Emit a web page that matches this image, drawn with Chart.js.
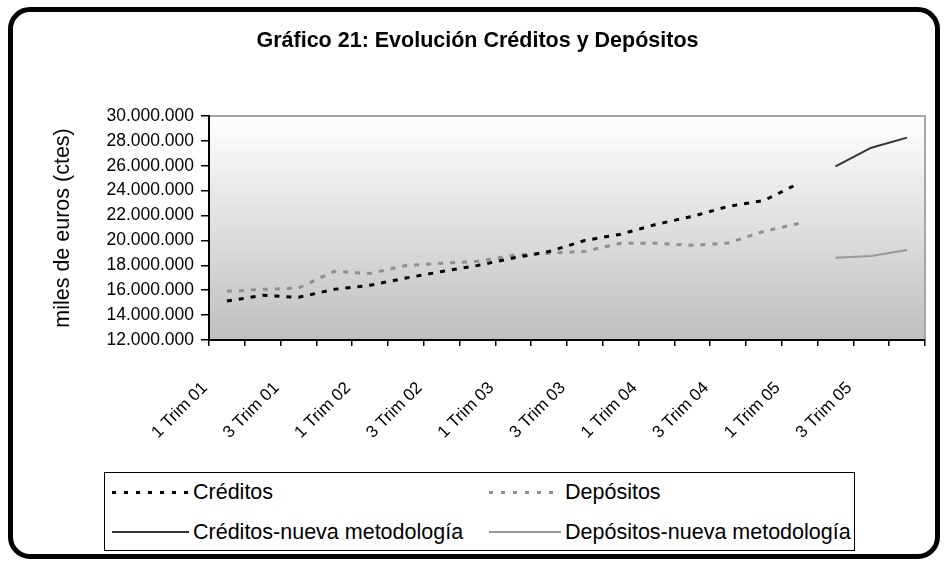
<!DOCTYPE html>
<html>
<head>
<meta charset="utf-8">
<script src="https://cdn.jsdelivr.net/npm/chart.js@4.4.0/dist/chart.umd.min.js"></script>
<style>
  html, body { margin: 0; padding: 0; background: #fff; }
  #wrap { position: relative; width: 946px; height: 564px; overflow: hidden; font-family: 'Liberation Sans', Arial, sans-serif; }
  #frame { position: absolute; left: 8px; top: 7px; width: 922px; height: 542px; border: 5px solid #000; border-radius: 22px; box-sizing: content-box; }
  #c { position: absolute; left: 0; top: 0; }
  #legend { position: absolute; left: 104px; top: 472px; width: 749px; height: 77px; border: 1px solid #000; background: #fff; }
  .item { position: absolute; display: flex; align-items: center; height: 26px; font-size: 21.5px; color: #000; white-space: nowrap; }
  .sw { display: inline-block; margin-right: 4px; }
</style>
</head>
<body>
<div id="wrap">
  <div id="frame"></div>
  <canvas id="c" width="946" height="564"></canvas>
  <div id="legend"></div>
</div>
<script>
// ---- data (miles de euros, constantes) ----
const categories = [
  '1 Trim 01','2 Trim 01','3 Trim 01','4 Trim 01',
  '1 Trim 02','2 Trim 02','3 Trim 02','4 Trim 02',
  '1 Trim 03','2 Trim 03','3 Trim 03','4 Trim 03',
  '1 Trim 04','2 Trim 04','3 Trim 04','4 Trim 04',
  '1 Trim 05','2 Trim 05','3 Trim 05','4 Trim 05'
];
const creditos = [15130000, 15590000, 15430000, 16070000, 16400000, 16980000, 17500000, 17990000,
  18590000, 19110000, 20000000, 20500000, 21300000, 21930000, 22740000, 23210000, 24620000, null, null, null];
const depositos = [15910000, 16070000, 16180000, 17520000, 17340000, 17990000, 18160000, 18320000,
  18810000, 18970000, 19130000, 19770000, 19770000, 19610000, 19800000, 20730000, 21380000, null, null, null];
const creditosNueva = [null, null, null, null, null, null, null, null, null, null, null, null,
  null, null, null, null, null, 25960000, 27450000, 28260000];
const depositosNueva = [null, null, null, null, null, null, null, null, null, null, null, null,
  null, null, null, null, null, 18610000, 18750000, 19230000];
const seriesNames = ['Créditos', 'Depósitos', 'Créditos-nueva metodología', 'Depósitos-nueva metodología'];
const yMin = 12000000, yMax = 30000000, yStep = 2000000;

const FONT = "'Liberation Sans', Arial, sans-serif";
Chart.defaults.font.family = FONT;
Chart.defaults.color = '#000';

function fmt(v) {
  return String(Math.round(v)).replace(/\B(?=(\d{3})+(?!\d))/g, '.');
}

const plotBg = {
  id: 'plotBg',
  beforeDraw(chart) {
    const { ctx, chartArea: a } = chart;
    const g = ctx.createLinearGradient(0, a.top, 0, a.bottom);
    g.addColorStop(0, '#ffffff');
    g.addColorStop(1, '#bfbfbf');
    ctx.save();
    ctx.fillStyle = g;
    ctx.fillRect(a.left, a.top, a.right - a.left, a.bottom - a.top);
    ctx.strokeStyle = '#a6a6a6';
    ctx.lineWidth = 2;
    ctx.beginPath();
    ctx.moveTo(a.left, a.top);
    ctx.lineTo(a.right, a.top);
    ctx.lineTo(a.right, a.bottom);
    ctx.stroke();
    ctx.restore();
  }
};

const styles = [
  { borderColor: '#000000', borderWidth: 3, borderDash: [5, 7] },
  { borderColor: '#8f8f8f', borderWidth: 3, borderDash: [5, 7] },
  { borderColor: '#333333', borderWidth: 2, borderDash: [] },
  { borderColor: '#999999', borderWidth: 2, borderDash: [] }
];
const values = [creditos, depositos, creditosNueva, depositosNueva];

const chart = new Chart(document.getElementById('c'), {
  type: 'line',
  data: {
    labels: categories,
    datasets: values.map((d, i) => Object.assign({
      label: seriesNames[i],
      data: d,
      pointRadius: 0,
      pointHoverRadius: 0,
      tension: 0,
      fill: false,
      spanGaps: false,
      borderCapStyle: 'butt'
    }, styles[i]))
  },
  options: {
    responsive: false,
    animation: false,
    events: [],
    layout: { padding: { top: 0, right: 21, bottom: 0, left: 30 } },
    plugins: {
      legend: { display: false },
      tooltip: { enabled: false },
      title: {
        display: true,
        text: 'Gráfico 21: Evolución Créditos y Depósitos',
        color: '#000',
        font: { family: FONT, size: 21.5, weight: 'bold' },
        padding: { top: 28.6, bottom: 61.6 }
      }
    },
    scales: {
      x: {
        type: 'category',
        offset: true,
        afterFit(scale) { scale.height = 224; scale.paddingLeft = 0; scale.paddingRight = 0; },
        border: { display: true, color: '#000', width: 2 },
        grid: { display: true, offset: true, drawOnChartArea: false, drawTicks: true, tickLength: 6, color: '#000', lineWidth: 1.5 },
        ticks: {
          autoSkip: false,
          minRotation: 45,
          maxRotation: 45,
          padding: 32,
          labelOffset: -22,
          font: { family: FONT, size: 17 },
          color: '#000',
          callback: function (v, i) { return i % 2 === 0 ? this.getLabelForValue(v) : ''; }
        }
      },
      y: {
        min: yMin,
        max: yMax,
        afterFit(scale) { scale.width = 179; scale.paddingTop = 0; scale.paddingBottom = 0; },
        border: { display: true, color: '#000', width: 2 },
        grid: { display: true, drawOnChartArea: false, drawTicks: true, tickLength: 8, color: '#000', lineWidth: 1.5 },
        ticks: {
          stepSize: yStep,
          padding: 7,
          font: { family: FONT, size: 17.5 },
          color: '#000',
          callback: (v) => fmt(v)
        },
        title: {
          display: true,
          text: 'miles de euros (ctes)',
          color: '#000',
          font: { family: FONT, size: 21.5 },
          padding: { top: 20.6, bottom: 0 }
        }
      }
    }
  },
  plugins: [plotBg]
});

// ---- HTML legend built from the chart's datasets ----
const legendPos = [
  { left: 7, top: 6, sw: 77 },
  { left: 384, top: 6, sw: 72 },
  { left: 7, top: 46, sw: 77 },
  { left: 384, top: 46, sw: 72 }
];
const legendEl = document.getElementById('legend');
chart.data.datasets.forEach((ds, i) => {
  const p = legendPos[i];
  const item = document.createElement('div');
  item.className = 'item';
  item.style.left = p.left + 'px';
  item.style.top = p.top + 'px';
  const sw = document.createElement('span');
  sw.className = 'sw';
  sw.style.width = p.sw + 'px';
  if (ds.borderDash && ds.borderDash.length) {
    sw.style.height = '3px';
    sw.style.background = 'repeating-linear-gradient(90deg,' + ds.borderColor + ' 0 4px, transparent 4px 12px)';
  } else {
    sw.style.height = ds.borderWidth + 'px';
    sw.style.background = ds.borderColor;
  }
  const tx = document.createElement('span');
  tx.textContent = ds.label;
  item.appendChild(sw);
  item.appendChild(tx);
  legendEl.appendChild(item);
});
</script>
</body>
</html>
